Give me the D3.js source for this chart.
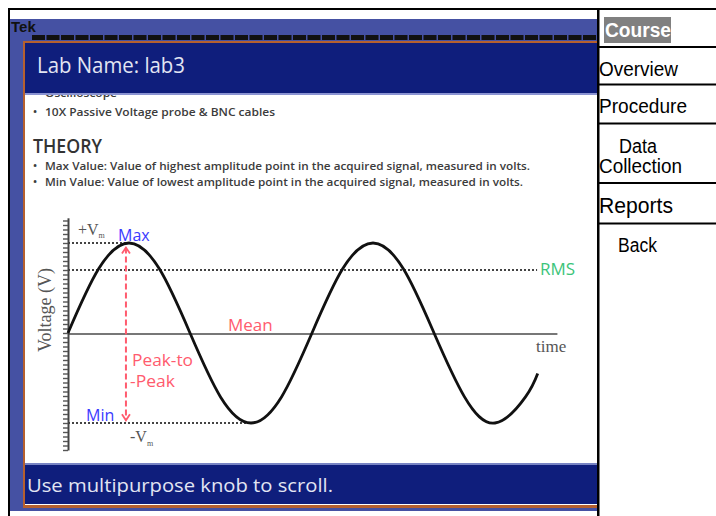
<!DOCTYPE html>
<html><head><meta charset="utf-8">
<script src="https://cdn.jsdelivr.net/npm/d3@7"></script>
<style>body{margin:0;background:#fff}svg{display:block}</style>
</head><body>
<svg id="c" width="716" height="516"></svg>
<script>
// ---- data ----
const navLabels = [["Course"], ["Overview"], ["Procedure"], ["Data", "Collection"], ["Reports"], ["Back"]];
const titleText = "Lab Name: lab3";
const statusText = "Use multipurpose knob to scroll.";
const equipmentLines = ["Oscilloscope", "10X Passive Voltage probe & BNC cables"];
const theoryHeading = "THEORY";
const theoryLines = [
  "Max Value: Value of highest amplitude point in the acquired signal, measured in volts.",
  "Min Value: Value of lowest amplitude point in the acquired signal, measured in volts."
];
const sineTime = [0, 1, 2, 3, 4, 5, 6, 7, 8, 9, 10, 11, 12, 13, 14, 15, 15.4];
const sineVolt = [0, 0.71, 1, 0.71, 0, -0.71, -1, -0.71, 0, 0.71, 1, 0.71, 0, -0.71, -1, -0.71, -0.45];
const levelMax = 1, levelRms = 0.7, levelMean = 0, levelMin = -1;
const maxTime = 2, minTime = 6, rmsEnd = 15.38, timeEnd = 16.03;
const p2pTime = 1.9, p2pTop = 0.95, p2pBottom = -0.97;
const axisTop = 1.28, axisBottom = -1.3, axisTickStep = 0.05;

// ---- drawing ----
const svg = d3.select("#c");
const SANS = "'Open Sans', 'Noto Sans', sans-serif";
const SERIF = "'Liberation Serif', 'DejaVu Serif', serif";
const ARIAL = "'Liberation Sans', Arial, sans-serif";
const FRAME = "#4551a3", DARK = "#0f1e7c", ORANGE = "#b5602f", LIGHT = "#e2e5f3";

svg.append("rect").attr("width", 716).attr("height", 516).attr("fill", "#fff");

// scope frame
svg.append("rect").attr("x", 10).attr("y", 19).attr("width", 588).attr("height", 492).attr("fill", FRAME);
svg.append("line").attr("x1", 32).attr("x2", 597).attr("y1", 37.5).attr("y2", 37.5)
  .attr("stroke", "#111").attr("stroke-width", 5).attr("stroke-dasharray", "13,1.5");
svg.append("rect").attr("x", 23).attr("y", 41).attr("width", 580).attr("height", 467).attr("fill", ORANGE);
svg.append("rect").attr("x", 25).attr("y", 43).attr("width", 573).attr("height", 462).attr("fill", "#fff");

svg.append("text").attr("x", 11).attr("y", 32).attr("font-family", ARIAL).attr("font-weight", "bold")
  .attr("font-size", 15).attr("fill", "#111").text("Tek");

// content text
const content = svg.append("g").attr("font-family", SANS).attr("font-weight", 600);
content.selectAll("text.eq").data(equipmentLines).join("text").attr("class", "eq")
  .attr("x", 45).attr("y", (d, i) => 97 + i * 19).attr("font-size", 11)
  .attr("fill", "#3c3c3c").attr("textLength", (d, i) => i ? 230 : 72).attr("lengthAdjust", "spacingAndGlyphs").text(d => d);
content.selectAll("text.eqb").data(equipmentLines).join("text").attr("class", "eqb")
  .attr("x", 33).attr("y", (d, i) => 97 + i * 19).attr("font-size", 11)
  .attr("fill", "#3c3c3c").text("•");
content.append("text").attr("x", 33).attr("y", 153).attr("font-size", 19)
  .attr("fill", "#333").attr("textLength", 69).attr("lengthAdjust", "spacingAndGlyphs").text(theoryHeading);
content.selectAll("text.th").data(theoryLines).join("text").attr("class", "th")
  .attr("x", 45).attr("y", (d, i) => 170 + i * 16).attr("font-size", 11)
  .attr("fill", "#3c3c3c").attr("textLength", (d, i) => i ? 478 : 485).attr("lengthAdjust", "spacingAndGlyphs").text(d => d);
content.selectAll("text.thb").data(theoryLines).join("text").attr("class", "thb")
  .attr("x", 33).attr("y", (d, i) => 170 + i * 16).attr("font-size", 11)
  .attr("fill", "#3c3c3c").text("•");

// title bar
svg.append("rect").attr("x", 25).attr("y", 43).attr("width", 573).attr("height", 51).attr("fill", DARK);
svg.append("rect").attr("x", 25).attr("y", 93).attr("width", 573).attr("height", 2).attr("fill", "#8a93d2");
svg.append("text").attr("x", 37).attr("y", 73).attr("font-family", SANS).attr("font-size", 21).attr("font-weight", 500)
  .attr("fill", LIGHT).attr("textLength", 148).attr("lengthAdjust", "spacingAndGlyphs").text(titleText);

// status bar
svg.append("rect").attr("x", 25).attr("y", 463).attr("width", 573).attr("height", 2).attr("fill", "#7884c4");
svg.append("rect").attr("x", 25).attr("y", 465).attr("width", 573).attr("height", 39).attr("fill", DARK);
svg.append("text").attr("x", 27).attr("y", 492).attr("font-family", SANS).attr("font-size", 19).attr("font-weight", 500)
  .attr("fill", LIGHT).attr("textLength", 306).attr("lengthAdjust", "spacingAndGlyphs").text(statusText);

// ---- diagram ----
const x = d3.scaleLinear().domain([0, 16]).range([68, 556]);
const y = d3.scaleLinear().domain([-1, 1]).range([423, 243]);
const g = svg.append("g");

// time axis (mean)
const xAxisScale = d3.scaleLinear().domain([0, timeEnd]).range([x(0), x(timeEnd)]);
g.append("g").attr("transform", `translate(0,${y(levelMean) + 0.5})`)
  .call(d3.axisBottom(xAxisScale).tickValues([]).tickSizeOuter(0))
  .call(s => s.select(".domain").attr("stroke", "#777").attr("stroke-width", 2));

// dotted levels
const dotted = [[levelMax, 0, maxTime], [levelRms, 0, rmsEnd], [levelMin, 0, minTime]];
g.selectAll("line.lvl").data(dotted).join("line").attr("class", "lvl")
  .attr("x1", d => x(d[1])).attr("x2", d => x(d[2])).attr("y1", d => y(d[0])).attr("y2", d => y(d[0]))
  .attr("stroke", "#444").attr("stroke-width", 2).attr("stroke-dasharray", "2,2");

// y axis
const yAxisScale = d3.scaleLinear().domain([axisBottom, axisTop]).range([y(axisBottom), y(axisTop)]);
g.append("g").attr("transform", `translate(${x(0)},0)`)
  .call(d3.axisLeft(yAxisScale).tickValues(d3.range(axisBottom, axisTop + 0.001, axisTickStep))
    .tickSize(5).tickSizeOuter(0).tickFormat(""))
  .call(s => s.select(".domain").attr("stroke", "#444").attr("stroke-width", 2))
  .call(s => s.selectAll(".tick line").attr("stroke", "#555").attr("stroke-width", 1.4));

// sine
const pts = sineTime.map((t, i) => ({t, v: sineVolt[i]}));
g.append("path").datum(pts).attr("fill", "none").attr("stroke", "#111").attr("stroke-width", 2.8)
  .attr("d", d3.line().x(d => x(d.t)).y(d => y(d.v)).curve(d3.curveNatural));

// peak-to-peak arrow
const RED = "#ff5b6e";
const ax = x(p2pTime);
g.append("line").attr("x1", ax).attr("x2", ax).attr("y1", y(p2pTop)).attr("y2", y(p2pBottom))
  .attr("stroke", RED).attr("stroke-width", 2).attr("stroke-dasharray", "6,3");
g.append("path").attr("fill", "none").attr("stroke", RED).attr("stroke-width", 1.8)
  .attr("d", `M${ax - 4},${y(p2pTop) + 6}L${ax},${y(p2pTop)}L${ax + 4},${y(p2pTop) + 6}`);
g.append("path").attr("fill", "none").attr("stroke", RED).attr("stroke-width", 1.8)
  .attr("d", `M${ax - 4},${y(p2pBottom) - 6}L${ax},${y(p2pBottom)}L${ax + 4},${y(p2pBottom) - 6}`);

// labels
const vp = g.append("text").attr("x", 78).attr("y", 235).attr("font-family", SERIF).attr("font-size", 16).attr("fill", "#555");
vp.append("tspan").text("+V");
vp.append("tspan").attr("font-size", 8).attr("dy", 3).text("m");
const vm = g.append("text").attr("x", 130).attr("y", 442).attr("font-family", SERIF).attr("font-size", 16).attr("fill", "#555");
vm.append("tspan").text("-V");
vm.append("tspan").attr("font-size", 8).attr("dy", 4).text("m");
g.append("text").attr("x", 118).attr("y", 241).attr("font-family", SANS).attr("font-size", 16).attr("fill", "#3a3aff").text("Max");
g.append("text").attr("x", 86).attr("y", 421).attr("font-family", SANS).attr("font-size", 16).attr("fill", "#3a3aff").text("Min");
g.append("text").attr("x", 132).attr("y", 366).attr("font-family", SANS).attr("font-size", 15.5).attr("fill", RED)
  .attr("textLength", 61).attr("lengthAdjust", "spacingAndGlyphs").text("Peak-to");
g.append("text").attr("x", 130).attr("y", 387).attr("font-family", SANS).attr("font-size", 15.5).attr("fill", RED)
  .attr("textLength", 45).attr("lengthAdjust", "spacingAndGlyphs").text("-Peak");
g.append("text").attr("x", 228).attr("y", 331).attr("font-family", SANS).attr("font-size", 17).attr("fill", RED).text("Mean");
g.append("text").attr("x", 540).attr("y", 275).attr("font-family", SANS).attr("font-size", 17).attr("fill", "#3cc47a").text("RMS");
g.append("text").attr("x", 536).attr("y", 352).attr("font-family", SERIF).attr("font-size", 17).attr("fill", "#555").text("time");
g.append("text").attr("transform", "translate(51,310) rotate(-90)").attr("text-anchor", "middle")
  .attr("font-family", SERIF).attr("font-size", 18).attr("fill", "#555").text("Voltage (V)");

// ---- outer lines & nav panel ----
svg.append("rect").attr("x", 598).attr("y", 0).attr("width", 118).attr("height", 516).attr("fill", "#fff");
svg.append("rect").attr("x", 10).attr("y", 10).attr("width", 588).attr("height", 9).attr("fill", "#fff");
svg.append("rect").attr("x", 8).attr("y", 8).attr("width", 708).attr("height", 2).attr("fill", "#000");
svg.append("rect").attr("x", 8).attr("y", 8).attr("width", 2).attr("height", 508).attr("fill", "#000");
svg.append("rect").attr("x", 597).attr("y", 8).attr("width", 2.5).attr("height", 508).attr("fill", "#000");

const navY = [47, 84.5, 123.5, 183, 223.5];
svg.selectAll("rect.sep").data(navY).join("rect").attr("class", "sep")
  .attr("x", 598).attr("y", d => d - 1).attr("width", 118).attr("height", 2).attr("fill", "#000");

svg.append("rect").attr("x", 604).attr("y", 17).attr("width", 67).attr("height", 26).attr("fill", "#808080");
const navPos = [
  [[605, 37, 66]],
  [[599, 75.5, 79]],
  [[599, 113, 88]],
  [[619, 153, 38], [599, 173, 83]],
  [[599, 213, 74]],
  [[618, 252, 39]]
];
navLabels.forEach((lines, i) => {
  lines.forEach((txt, j) => {
    const p = navPos[i][j];
    svg.append("text").attr("x", p[0]).attr("y", p[1]).attr("font-family", ARIAL)
      .attr("font-size", i === 4 ? 22 : 20).attr("font-weight", i === 0 ? "bold" : "normal")
      .attr("fill", i === 0 ? "#fff" : "#000")
      .attr("textLength", p[2]).attr("lengthAdjust", "spacingAndGlyphs").text(txt);
  });
});
</script>
</body></html>
